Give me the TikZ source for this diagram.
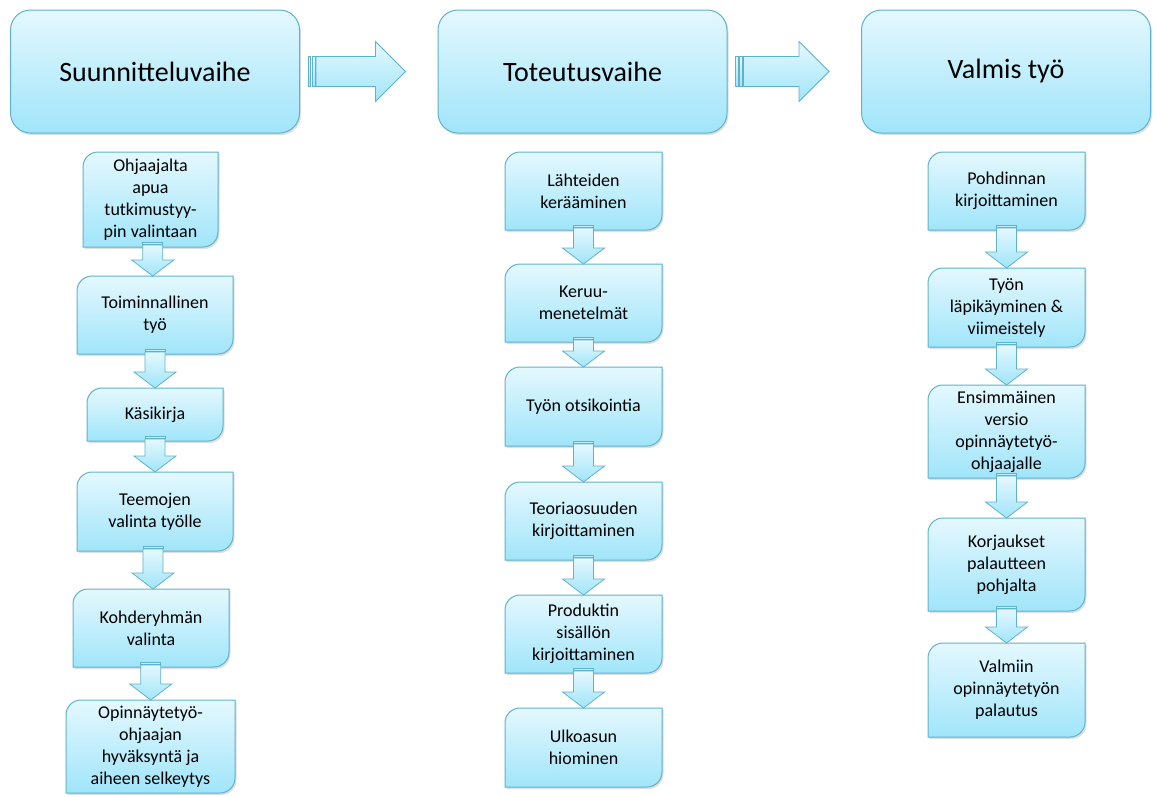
\documentclass[tikz,border=0pt]{standalone}
\usepackage{fontspec}
\setmainfont{Carlito}
\usetikzlibrary{calc,backgrounds,shadows}

\definecolor{rimblue}{RGB}{95,178,203}
\definecolor{lightblue}{RGB}{228,248,254}
\definecolor{deepblue}{RGB}{160,229,250}

\begin{document}
\begin{tikzpicture}[x=1pt, y=-1pt]
  \tikzset{
    phase/.style={rectangle, rounded corners=20pt, draw=rimblue, line width=1pt,
      top color=lightblue, bottom color=deepblue, minimum width=289, minimum height=123,
      font=\fontsize{28}{34}\selectfont,
      drop shadow={shadow xshift=1.5pt, shadow yshift=-2pt, opacity=.25}},
    stepbox/.style={rectangle, inner sep=0pt, outer sep=0pt, align=center,
      font=\fontsize{18}{22}\selectfont},
    stepshape/.style={draw=rimblue, line width=1pt, top color=lightblue, bottom color=deepblue,
      drop shadow={shadow xshift=1.5pt, shadow yshift=-2pt, opacity=.25}},
    blockarrow/.style={draw=rimblue, line width=.8pt, top color=lightblue, bottom color=deepblue}
  }
  \useasboundingbox (0,0) rectangle (1153,796);

  % phases
  \node [phase] at (155,71.5)    (Suunnittelu) {Suunnitteluvaihe};
  \node [phase] at (582.5,71.5)  (Toteutus)    {Toteutusvaihe};
  \node [phase] at (1006,71.5)   (Valmis)      {Valmis työ};

  % first column
  \node [stepbox, minimum width=135, minimum height=95] at (150.5,199.5) (Ohjaus)     {Ohjaajalta\\apua\\tutkimustyy-\\pin valintaan};
  \node [stepbox, minimum width=156, minimum height=78] at (155,315)     (Toiminta)   {Toiminnallinen\\työ};
  \node [stepbox, minimum width=136, minimum height=53] at (155,414.5)   (Kasikirja)  {Käsikirja};
  \node [stepbox, minimum width=156, minimum height=79] at (155,511.5)   (Teemat)     {Teemojen\\valinta työlle};
  \node [stepbox, minimum width=156, minimum height=78] at (151,628)     (Kohderyhma) {Kohderyhmän\\valinta};
  \node [stepbox, minimum width=169, minimum height=93] at (150.5,746.5) (Hyvaksynta) {Opinnäytetyö-\\ohjaajan\\hyväksyntä ja\\aiheen selkeytys};

  % second column
  \node [stepbox, minimum width=157, minimum height=78] at (583.5,191)   (Lahteet)    {Lähteiden\\kerääminen};
  \node [stepbox, minimum width=157, minimum height=78] at (583.5,303)   (Keruu)      {Keruu-\\menetelmät};
  \node [stepbox, minimum width=157, minimum height=79] at (583.5,406.5) (Otsikointi) {Työn otsikointia};
  \node [stepbox, minimum width=157, minimum height=78] at (583.5,521)   (Teoria)     {Teoriaosuuden\\kirjoittaminen};
  \node [stepbox, minimum width=157, minimum height=78] at (583.5,634)   (Produkti)   {Produktin\\sisällön\\kirjoittaminen};
  \node [stepbox, minimum width=157, minimum height=79] at (583.5,747.5) (Ulkoasu)    {Ulkoasun\\hiominen};

  % third column
  \node [stepbox, minimum width=157, minimum height=78] at (1006.5,191)   (Pohdinta)    {Pohdinnan\\kirjoittaminen};
  \node [stepbox, minimum width=157, minimum height=79] at (1006.5,307.5) (Viimeistely) {Työn\\läpikäyminen \&\\viimeistely};
  \node [stepbox, minimum width=157, minimum height=93] at (1006.5,431.5) (Versio)      {Ensimmäinen\\versio\\opinnäytetyö-\\ohjaajalle};
  \node [stepbox, minimum width=157, minimum height=93] at (1006.5,564.5) (Korjaus)     {Korjaukset\\palautteen\\pohjalta};
  \node [stepbox, minimum width=157, minimum height=94] at (1006.5,690)   (Palautus)    {Valmiin\\opinnäytetyön\\palautus};

  % box outlines behind the texts
  \begin{pgfonlayer}{background}
    \foreach \n in {Ohjaus,Toiminta,Kasikirja,Teemat,Kohderyhma,Hyvaksynta,
                    Lahteet,Keruu,Otsikointi,Teoria,Produkti,Ulkoasu,
                    Pohdinta,Viimeistely,Versio,Korjaus,Palautus}
      \path[stepshape] ([yshift=-15pt]\n.north west) arc[start angle=180, end angle=90, radius=15pt]
        -- (\n.north east) -- ([yshift=15pt]\n.south east) arc[start angle=0, end angle=-90, radius=15pt]
        -- (\n.south west) -- cycle;
  \end{pgfonlayer}

  % arrows between phases
  \foreach \a/\b in {Suunnittelu/Toteutus, Toteutus/Valmis} {
    \path[blockarrow] let \p1=(\a.east), \p2=(\b.west) in
      (\x1+8pt,\y1+15pt) rectangle (\x1+10.5pt,\y1-15pt)
      (\x1+12pt,\y1+15pt) rectangle (\x1+15pt,\y1-15pt);
    \path[blockarrow] let \p1=(\a.east), \p2=(\b.west) in
      (\x1+16pt,\y1+15pt) -- (\x2-62pt,\y1+15pt) -- (\x2-62pt,\y1+30pt) -- (\x2-32pt,\y1)
      -- (\x2-62pt,\y1-30pt) -- (\x2-62pt,\y1-15pt) -- (\x1+16pt,\y1-15pt) -- cycle;
  }

  % arrows down the columns
  \foreach \a/\b in {Ohjaus/Toiminta, Toiminta/Kasikirja, Kasikirja/Teemat, Teemat/Kohderyhma, Kohderyhma/Hyvaksynta,
                     Lahteet/Keruu, Keruu/Otsikointi, Otsikointi/Teoria, Teoria/Produkti, Produkti/Ulkoasu,
                     Pohdinta/Viimeistely, Viimeistely/Versio, Versio/Korjaus, Korjaus/Palautus} {
    \path[blockarrow] let \p1=(\a.south), \p2=(\b.north), \p3=($(\p1)!.5!(\p2)$) in
      (\x3-10pt,\y1+5pt) rectangle (\x3+10pt,\y1+3pt);
    \path[blockarrow] let \p1=(\a.south), \p2=(\b.north), \p3=($(\p1)!.5!(\p2)$) in
      (\x3-10pt,\y1+2pt) -- (\x3+10pt,\y1+2pt) -- (\x3+10pt,\y2+16pt) -- (\x3+21pt,\y2+16pt)
      -- (\x3,\y2) -- (\x3-21pt,\y2+16pt) -- (\x3-10pt,\y2+16pt) -- cycle;
  }
\end{tikzpicture}
\end{document}
